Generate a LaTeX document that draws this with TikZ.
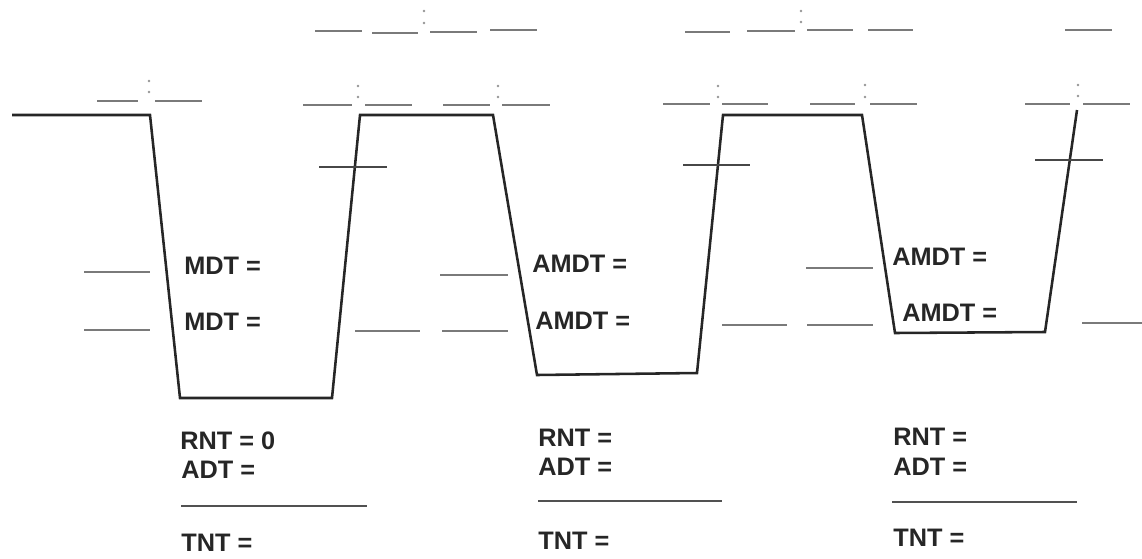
\documentclass[tikz,border=0pt]{standalone}
\usepackage{fontspec}
\setmainfont{Liberation Sans}
\definecolor{ink}{HTML}{262626}
\definecolor{blank}{HTML}{7A7A7A}
\tikzset{
  profile/.style={draw=ink, line width=1.45pt, line join=miter},
  blankline/.style={draw=blank, line width=0.85pt},
  crossline/.style={draw=ink!85, line width=0.9pt},
  lbl/.style={anchor=west, inner sep=0pt, text=ink,
    font=\fontsize{14.4}{16}\selectfont\bfseries},
  coldot/.style={fill=blank!80, draw=none, circle, inner sep=0pt, minimum size=1.6pt},
}
\begin{document}
\begin{tikzpicture}[x=0.02cm, y=-0.02cm]
\useasboundingbox (0,0) rectangle (1142,558);

% ---- dive profile ----
\coordinate (s0) at (12,115);
\coordinate (a1) at (150,115);
\coordinate (b1) at (180,398);
\coordinate (c1) at (332,398);
\coordinate (d1) at (360,115);
\coordinate (a2) at (493,115);
\coordinate (b2) at (537,375);
\coordinate (c2) at (697,373);
\coordinate (d2) at (723,115);
\coordinate (a3) at (862,115);
\coordinate (b3) at (895,333);
\coordinate (c3) at (1045,332);
\coordinate (d3) at (1077,110);
\draw[profile] (s0) -- (a1) -- (b1) -- (c1) -- (d1) -- (a2) -- (b2) -- (c2) -- (d2) -- (a3) -- (b3) -- (c3) -- (d3);

% ---- time blanks, top row ----
\foreach \xa/\xb/\yy in {315/362/31, 372/418/33, 430/477/32, 490/537/30,
                         685/730/32, 747/795/31, 807/853/30, 868/913/30,
                         1065/1112/30}
  \draw[blankline] (\xa,\yy) -- (\xb,\yy);

% ---- time blanks at the surface ----
\foreach \xa/\xb/\yy in {97/138/101, 155/202/101,
                         303/352/105, 365/412/105, 443/490/105, 502/550/105,
                         663/710/104, 722/768/104, 810/855/104, 870/917/104,
                         1025/1070/104, 1083/1130/104}
  \draw[blankline] (\xa,\yy) -- (\xb,\yy);

% ---- colons between hour and minute blanks ----
\foreach \cx/\ya/\yb in {149/81/92, 358/86/97, 498/86/97, 424/11/23,
                         718/86/97, 865/85/97, 801/11/22, 1078/85/96}
{
  \node[coldot] at (\cx,\ya) {};
  \node[coldot] at (\cx,\yb) {};
}

% ---- marks across the ascents ----
\draw[crossline] (319,167) -- (387,167);
\draw[crossline] (683,165) -- (750,165);
\draw[crossline] (1035,160) -- (1103,160);

% ---- depth blanks beside the descents ----
\foreach \xa/\xb/\yy in {84/150/272, 84/150/330,
                         355/420/331, 442/508/331, 440/508/275,
                         722/787/325, 807/873/325, 806/873/268,
                         1082/1142/323}
  \draw[blankline] (\xa,\yy) -- (\xb,\yy);

% ---- depth labels ----
\node[lbl] (m1) at (184,266) {MDT =};
\node[lbl] (m2) at (184,322) {MDT =};
\node[lbl] (m3) at (532,264) {AMDT =};
\node[lbl] (m4) at (535,321) {AMDT =};
\node[lbl] (m5) at (892,257) {AMDT =};
\node[lbl] (m6) at (902,313) {AMDT =};

% ---- nitrogen time sums ----
\node[lbl] (r1) at (180,441) {RNT = 0};
\node[lbl] (t1) at (181,470) {ADT =};
\node[lbl] (n1) at (181,543) {TNT =};
\draw[blankline, draw=ink!80] (181,506) -- (367,506);

\node[lbl] (r2) at (538,438) {RNT =};
\node[lbl] (t2) at (538,467) {ADT =};
\node[lbl] (n2) at (538,541) {TNT =};
\draw[blankline, draw=ink!80] (538,501) -- (722,501);

\node[lbl] (r3) at (893,437) {RNT =};
\node[lbl] (t3) at (893,467) {ADT =};
\node[lbl] (n3) at (893,538) {TNT =};
\draw[blankline, draw=ink!80] (892,502) -- (1077,502);
\end{tikzpicture}
\end{document}
